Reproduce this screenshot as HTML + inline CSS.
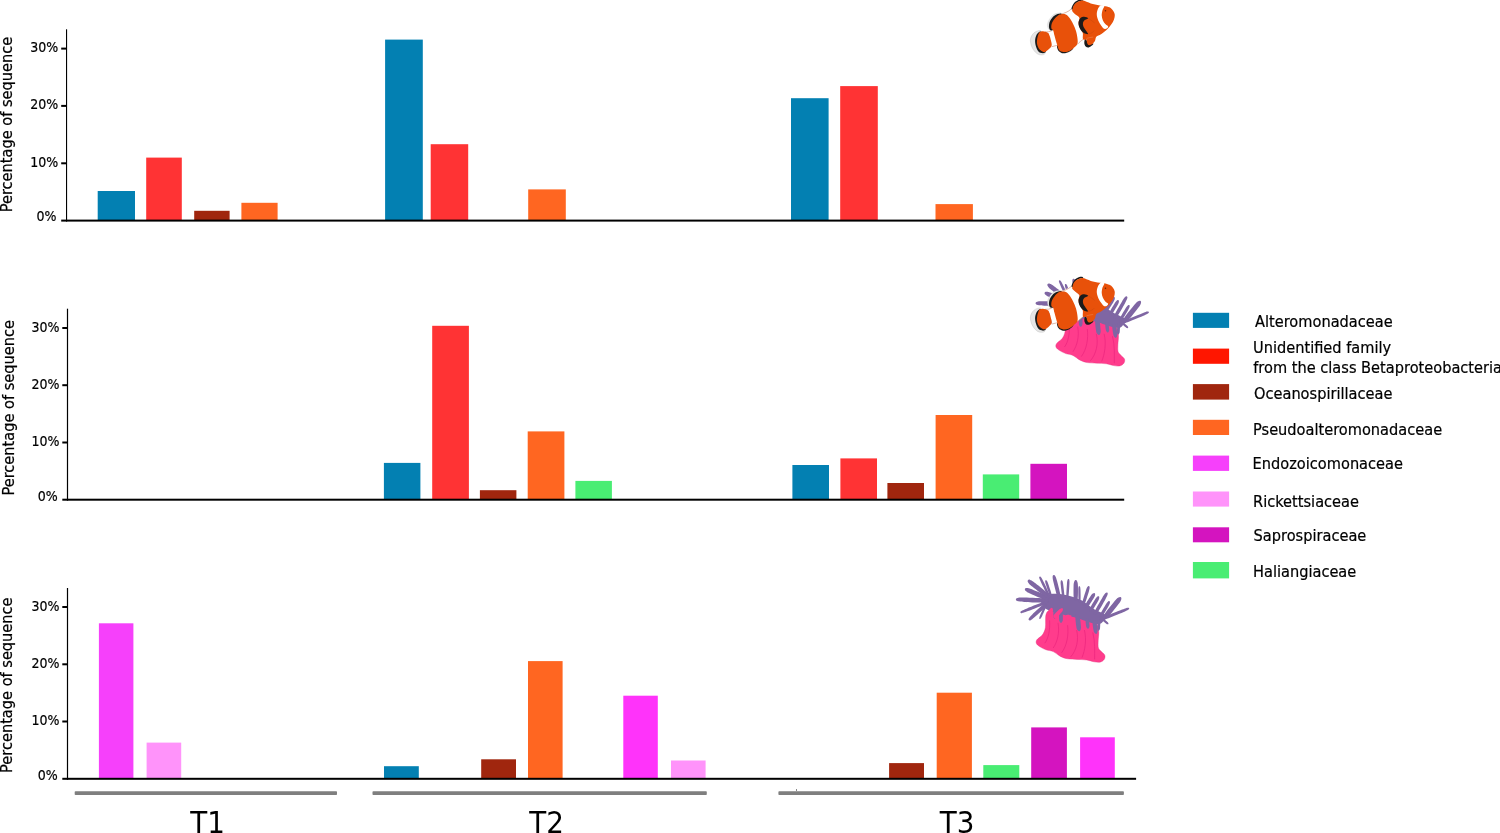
<!DOCTYPE html>
<html lang="en"><head><meta charset="utf-8"><title>Percentage of sequence by bacterial family</title>
<style>
html,body{margin:0;padding:0;background:#fff;}
body{width:1500px;height:833px;overflow:hidden;}
svg{display:block;}
text{font-family:"DejaVu Sans","Liberation Sans",sans-serif;fill:#000;stroke:#000;stroke-width:0.22px;}
.tk{font-size:14.0px;text-anchor:end;}
.yl{font-size:16.2px;}
.lg{font-size:16.2px;}
.tt{font-size:29.7px;stroke:none;}
</style></head><body>
<svg width="1500" height="833" viewBox="0 0 1500 833">
<rect width="1500" height="833" fill="#fff"/>

<g id="chart1">
<rect x="97.7" y="191.0" width="37.3" height="29.6" fill="#0380b2"/>
<rect x="146.2" y="157.6" width="35.6" height="63.0" fill="#ff3334"/>
<rect x="194.2" y="210.8" width="35.4" height="9.8" fill="#a0260e"/>
<rect x="241.4" y="202.8" width="36.2" height="17.8" fill="#ff6621"/>
<rect x="385.1" y="39.6" width="37.7" height="181.0" fill="#0380b2"/>
<rect x="430.7" y="144.2" width="37.5" height="76.4" fill="#ff3334"/>
<rect x="528.2" y="189.4" width="37.6" height="31.2" fill="#ff6621"/>
<rect x="791.0" y="98.2" width="37.6" height="122.4" fill="#0380b2"/>
<rect x="840.2" y="86.1" width="37.6" height="134.5" fill="#ff3334"/>
<rect x="935.5" y="204.1" width="37.4" height="16.5" fill="#ff6621"/>
<rect x="66.0" y="29.3" width="1.1" height="192.3" fill="#000"/>
<rect x="61.2" y="219.6" width="1063.0" height="2" fill="#000"/>
<text class="tk" transform="translate(56.4,221.4) scale(0.9,1)">0%</text>
<rect x="61.2" y="162.3" width="5.3" height="2" fill="#000"/>
<text class="tk" transform="translate(58.2,166.8) scale(0.9,1)">10%</text>
<rect x="61.2" y="104.9" width="5.3" height="2" fill="#000"/>
<text class="tk" transform="translate(58.2,109.4) scale(0.9,1)">20%</text>
<rect x="61.2" y="47.6" width="5.3" height="2" fill="#000"/>
<text class="tk" transform="translate(58.2,52.1) scale(0.9,1)">30%</text>
<text class="yl" transform="translate(12.3,212.3) rotate(-90) scale(0.9,1)">Percentage of sequence</text>
</g>
<g id="chart2">
<rect x="383.9" y="462.9" width="36.5" height="36.8" fill="#0380b2"/>
<rect x="432.2" y="325.8" width="36.7" height="173.9" fill="#ff3334"/>
<rect x="479.9" y="490.2" width="36.5" height="9.5" fill="#a0260e"/>
<rect x="527.7" y="431.4" width="36.7" height="68.3" fill="#ff6621"/>
<rect x="575.4" y="480.9" width="36.5" height="18.8" fill="#49ed73"/>
<rect x="792.4" y="465.0" width="36.6" height="34.7" fill="#0380b2"/>
<rect x="840.4" y="458.4" width="36.6" height="41.3" fill="#ff3334"/>
<rect x="887.4" y="483.0" width="36.6" height="16.7" fill="#a0260e"/>
<rect x="935.6" y="415.0" width="36.6" height="84.7" fill="#ff6621"/>
<rect x="982.8" y="474.4" width="36.4" height="25.3" fill="#49ed73"/>
<rect x="1030.4" y="463.8" width="36.6" height="35.9" fill="#d414bf"/>
<rect x="66.9" y="308.7" width="1.2" height="192.0" fill="#000"/>
<rect x="62.3" y="498.7" width="1061.9" height="2" fill="#000"/>
<text class="tk" transform="translate(57.6,500.5) scale(0.9,1)">0%</text>
<rect x="62.3" y="441.5" width="5.1" height="2" fill="#000"/>
<text class="tk" transform="translate(59.4,446.0) scale(0.9,1)">10%</text>
<rect x="62.3" y="384.2" width="5.1" height="2" fill="#000"/>
<text class="tk" transform="translate(59.4,388.7) scale(0.9,1)">20%</text>
<rect x="62.3" y="327.0" width="5.1" height="2" fill="#000"/>
<text class="tk" transform="translate(59.4,331.5) scale(0.9,1)">30%</text>
<text class="yl" transform="translate(13.8,495.6) rotate(-90) scale(0.9,1)">Percentage of sequence</text>
</g>
<g id="chart3">
<rect x="98.9" y="623.3" width="34.5" height="155.5" fill="#f640fb"/>
<rect x="146.6" y="742.6" width="34.6" height="36.2" fill="#ff93fa"/>
<rect x="384.0" y="766.2" width="34.8" height="12.6" fill="#0380b2"/>
<rect x="481.2" y="759.3" width="34.8" height="19.5" fill="#a0260e"/>
<rect x="528.0" y="661.1" width="34.6" height="117.7" fill="#ff6621"/>
<rect x="623.3" y="695.7" width="34.5" height="83.1" fill="#ff33fa"/>
<rect x="671.0" y="760.5" width="34.6" height="18.3" fill="#ff93fa"/>
<rect x="889.1" y="763.1" width="34.9" height="15.7" fill="#a0260e"/>
<rect x="936.7" y="692.7" width="35.2" height="86.1" fill="#ff6621"/>
<rect x="983.3" y="765.1" width="36.0" height="13.7" fill="#49ed73"/>
<rect x="1031.2" y="727.4" width="35.7" height="51.4" fill="#d414bf"/>
<rect x="1080.1" y="737.3" width="34.7" height="41.5" fill="#ff33fa"/>
<rect x="66.9" y="588.0" width="1.2" height="191.8" fill="#000"/>
<rect x="62.3" y="777.8" width="1073.8" height="2" fill="#000"/>
<text class="tk" transform="translate(57.6,779.6) scale(0.9,1)">0%</text>
<rect x="62.3" y="720.5" width="5.1" height="2" fill="#000"/>
<text class="tk" transform="translate(59.4,725.0) scale(0.9,1)">10%</text>
<rect x="62.3" y="663.3" width="5.1" height="2" fill="#000"/>
<text class="tk" transform="translate(59.4,667.8) scale(0.9,1)">20%</text>
<rect x="62.3" y="606.0" width="5.1" height="2" fill="#000"/>
<text class="tk" transform="translate(59.4,610.5) scale(0.9,1)">30%</text>
<text class="yl" transform="translate(12.3,773.0) rotate(-90) scale(0.9,1)">Percentage of sequence</text>
</g>
<g id="groups" fill="#7f7f7f">
<rect x="74.7" y="791.2" width="262.3" height="3.8" rx="0.8"/>
<rect x="372.5" y="791.2" width="334.3" height="3.8" rx="0.8"/>
<rect x="778.4" y="791.2" width="345.5" height="3.8" rx="0.8"/>
</g>
<rect x="796" y="789" width="0.7" height="2" fill="#555"/>
<text class="tt" transform="translate(190.2,832.8) scale(0.935,1)">T1</text>
<text class="tt" transform="translate(529.3,832.8) scale(0.935,1)">T2</text>
<text class="tt" transform="translate(939.7,832.8) scale(0.935,1)">T3</text>
<g id="legend">
<rect x="1192.9" y="312.8" width="36.2" height="15.1" fill="#0380b2"/>
<rect x="1192.9" y="348.6" width="36.2" height="15.2" fill="#ff1600"/>
<rect x="1192.9" y="384.1" width="36.2" height="15.5" fill="#a0260e"/>
<rect x="1192.9" y="419.8" width="36.2" height="15.2" fill="#ff6621"/>
<rect x="1192.9" y="455.6" width="36.2" height="15.3" fill="#f640fb"/>
<rect x="1192.9" y="491.5" width="36.2" height="15.1" fill="#ff93fa"/>
<rect x="1192.9" y="527.3" width="36.2" height="15.0" fill="#d414bf"/>
<rect x="1192.9" y="562.0" width="36.2" height="16.4" fill="#49ed73"/>
<text class="lg" transform="translate(1255.0,326.8) scale(0.9,1)">Alteromonadaceae</text>
<text class="lg" transform="translate(1253.0,352.6) scale(0.9,1)">Unidentified family</text>
<text class="lg" transform="translate(1253.2,372.7) scale(0.9,1)">from the class Betaproteobacteria</text>
<text class="lg" transform="translate(1254.0,398.9) scale(0.9,1)">Oceanospirillaceae</text>
<text class="lg" transform="translate(1253.0,434.5) scale(0.9,1)">Pseudoalteromonadaceae</text>
<text class="lg" transform="translate(1252.6,468.9) scale(0.9,1)">Endozoicomonaceae</text>
<text class="lg" transform="translate(1253.0,506.9) scale(0.9,1)">Rickettsiaceae</text>
<text class="lg" transform="translate(1253.6,541.2) scale(0.9,1)">Saprospiraceae</text>
<text class="lg" transform="translate(1253.0,577.1) scale(0.9,1)">Haliangiaceae</text>
</g>
<defs><g id="fish">
<path transform="translate(1025,10) scale(0.06)" d="M330,366 L445,345 L480,360 L560,600 L445,612 L430,500 L400,420Z" fill="#fff"/>
<path transform="translate(1065,0) scale(0.06)" d="M-67,237 L105,150 L130,185 L160,220 L210,260 L250,300 L235,380 L250,450 L290,520 L305,560 L305,655 L205,740 L195,647 L170,517 L120,397 L60,297 L0,245Z" fill="#fff"/>
<g transform="translate(1025,10) scale(0.06)">
<path d="M255.0,343.0C231.7,336.3 177.2,357.2 150.0,380.0C122.8,402.8 99.0,443.3 92.0,480.0C85.0,516.7 95.0,563.3 108.0,600.0C121.0,636.7 146.3,675.5 170.0,700.0C193.7,724.5 222.5,743.3 250.0,747.0C277.5,750.7 326.7,753.2 335.0,722.0C343.3,690.8 307.5,610.3 300.0,560.0C292.5,509.7 297.5,456.2 290.0,420.0C282.5,383.8 278.3,349.7 255.0,343.0Z" fill="#e6e6e6" stroke="#9a9a9a" stroke-width="4"/>
<path d="M258.0,358.0C240.5,356.3 210.0,383.0 195.0,410.0C180.0,437.0 168.0,481.7 168.0,520.0C168.0,558.3 180.5,608.0 195.0,640.0C209.5,672.0 230.0,701.7 255.0,712.0C280.0,722.3 332.5,727.3 345.0,702.0C357.5,676.7 337.5,607.0 330.0,560.0C322.5,513.0 312.0,453.7 300.0,420.0C288.0,386.3 275.5,359.7 258.0,358.0Z" fill="#1b1b1b"/>
<path d="M250.0,365.0C262.5,357.5 278.3,352.5 300.0,355.0C321.7,357.5 361.7,367.5 380.0,380.0C398.3,392.5 401.7,410.0 410.0,430.0C418.3,450.0 424.2,473.3 430.0,500.0C435.8,526.7 450.0,565.0 445.0,590.0C440.0,615.0 417.5,632.5 400.0,650.0C382.5,667.5 358.3,688.3 340.0,695.0C321.7,701.7 308.3,699.2 290.0,690.0C271.7,680.8 245.0,661.7 230.0,640.0C215.0,618.3 204.2,588.3 200.0,560.0C195.8,531.7 200.8,496.7 205.0,470.0C209.2,443.3 217.5,417.5 225.0,400.0C232.5,382.5 237.5,372.5 250.0,365.0Z" fill="#e8510a"/>
<path d="M330,366 C370,368 410,362 445,348 M445,612 C500,600 545,585 595,570" fill="none" stroke="#b4552e" stroke-width="7"/>
<path d="M605.0,52.0C584.2,40.0 511.5,54.2 475.0,78.0C438.5,101.8 401.8,159.7 386.0,195.0C370.2,230.3 371.7,265.0 380.0,290.0C388.3,315.0 412.7,343.3 436.0,345.0C459.3,346.7 492.7,332.5 520.0,300.0C547.3,267.5 585.8,191.3 600.0,150.0C614.2,108.7 625.8,64.0 605.0,52.0Z" fill="#e6e6e6" stroke="#aaa" stroke-width="3"/>
<path d="M605.0,62.0C587.5,50.7 526.2,71.5 495.0,92.0C463.8,112.5 433.8,152.0 418.0,185.0C402.2,218.0 396.7,264.2 400.0,290.0C403.3,315.8 418.0,338.3 438.0,340.0C458.0,341.7 493.0,330.0 520.0,300.0C547.0,270.0 585.8,199.7 600.0,160.0C614.2,120.3 622.5,73.3 605.0,62.0Z" fill="#1b1b1b"/>
<path d="M535.0,600.0C528.3,615.3 542.5,661.7 560.0,682.0C577.5,702.3 609.2,720.3 640.0,722.0C670.8,723.7 717.5,707.7 745.0,692.0C772.5,676.3 812.5,643.3 805.0,628.0C797.5,612.7 734.2,606.3 700.0,600.0C665.8,593.7 627.5,590.0 600.0,590.0C572.5,590.0 541.7,584.7 535.0,600.0Z" fill="#1b1b1b"/>
<path d="M600.0,70.0C621.7,67.5 656.7,65.0 680.0,75.0C703.3,85.0 720.0,104.2 740.0,130.0C760.0,155.8 781.7,193.3 800.0,230.0C818.3,266.7 837.5,308.3 850.0,350.0C862.5,391.7 871.7,443.3 875.0,480.0C878.3,516.7 882.5,543.3 870.0,570.0C857.5,596.7 825.0,620.0 800.0,640.0C775.0,660.0 746.7,680.0 720.0,690.0C693.3,700.0 665.0,703.3 640.0,700.0C615.0,696.7 585.8,685.0 570.0,670.0C554.2,655.0 553.3,633.3 545.0,610.0C536.7,586.7 529.2,561.7 520.0,530.0C510.8,498.3 498.3,451.7 490.0,420.0C481.7,388.3 478.3,358.3 470.0,340.0C461.7,321.7 444.2,328.3 440.0,310.0C435.8,291.7 436.7,256.7 445.0,230.0C453.3,203.3 472.5,173.3 490.0,150.0C507.5,126.7 531.7,103.3 550.0,90.0C568.3,76.7 578.3,72.5 600.0,70.0Z" fill="#e8510a"/>
</g>
<g transform="translate(1065,0) scale(0.06)">
<path d="M-70,235 C-20,225 50,200 105,150 M205,740 C240,700 270,680 305,655" fill="none" stroke="#b4552e" stroke-width="7"/>
<path d="M108.0,150.0C107.5,138.7 115.5,111.2 125.0,92.0C134.5,72.8 147.8,50.7 165.0,35.0C182.2,19.3 206.8,5.2 228.0,-2.0C249.2,-9.2 280.0,-10.0 292.0,-8.0C304.0,-6.0 308.7,5.0 300.0,10.0C291.3,15.0 259.2,14.5 240.0,22.0C220.8,29.5 200.0,42.0 185.0,55.0C170.0,68.0 159.5,82.5 150.0,100.0C140.5,117.5 135.0,151.7 128.0,160.0C121.0,168.3 108.5,161.3 108.0,150.0Z" fill="#1b1b1b"/>
<path d="M338.0,650.0C325.0,650.0 320.8,699.2 322.0,720.0C323.2,740.8 332.8,763.3 345.0,775.0C357.2,786.7 376.7,793.3 395.0,790.0C413.3,786.7 442.5,765.8 455.0,755.0C467.5,744.2 479.2,730.8 470.0,725.0C460.8,719.2 422.0,732.5 400.0,720.0C378.0,707.5 351.0,650.0 338.0,650.0Z" fill="#1b1b1b"/>
<path d="M126.0,152.0C129.0,138.8 129.0,122.7 138.0,106.0C147.0,89.3 163.3,66.0 180.0,52.0C196.7,38.0 219.3,29.0 238.0,22.0C256.7,15.0 273.3,9.2 292.0,10.0C310.7,10.8 327.0,19.0 350.0,27.0C373.0,35.0 391.7,47.5 430.0,58.0C468.3,68.5 535.0,81.7 580.0,90.0C625.0,98.3 668.3,99.7 700.0,108.0C731.7,116.3 751.7,126.3 770.0,140.0C788.3,153.7 800.0,171.7 810.0,190.0C820.0,208.3 829.2,226.7 830.0,250.0C830.8,273.3 825.0,303.3 815.0,330.0C805.0,356.7 789.2,383.3 770.0,410.0C750.8,436.7 728.3,463.3 700.0,490.0C671.7,516.7 629.7,549.7 600.0,570.0C570.3,590.3 538.7,593.7 522.0,612.0C505.3,630.3 511.2,659.5 500.0,680.0C488.8,700.5 471.7,723.0 455.0,735.0C438.3,747.0 414.5,755.3 400.0,752.0C385.5,748.7 375.5,730.3 368.0,715.0C360.5,699.7 366.3,670.0 355.0,660.0C343.7,650.0 309.5,671.7 300.0,655.0C290.5,638.3 301.3,582.5 298.0,560.0C294.7,537.5 289.7,538.3 280.0,520.0C270.3,501.7 249.2,473.3 240.0,450.0C230.8,426.7 225.0,405.0 225.0,380.0C225.0,355.0 244.2,320.0 240.0,300.0C235.8,280.0 215.0,273.3 200.0,260.0C185.0,246.7 163.3,232.5 150.0,220.0C136.7,207.5 124.0,196.3 120.0,185.0C116.0,173.7 123.0,165.2 126.0,152.0Z" fill="#e8510a"/>
<path d="M590.0,92.0C608.3,82.0 649.2,87.0 655.0,100.0C660.8,113.0 632.2,143.3 625.0,170.0C617.8,196.7 610.8,231.7 612.0,260.0C613.2,288.3 622.0,316.7 632.0,340.0C642.0,363.3 657.7,383.8 672.0,400.0C686.3,416.2 713.3,425.0 718.0,437.0C722.7,449.0 710.5,464.8 700.0,472.0C689.5,479.2 670.8,487.3 655.0,480.0C639.2,472.7 621.2,449.7 605.0,428.0C588.8,406.3 570.5,379.7 558.0,350.0C545.5,320.3 532.2,281.7 530.0,250.0C527.8,218.3 535.0,186.3 545.0,160.0C555.0,133.7 571.7,102.0 590.0,92.0Z" fill="#fff"/>
<circle cx="675" cy="180" r="13" fill="#6e2405"/>
<path d="M790,235 L815,228" stroke="#b5451a" stroke-width="5" fill="none"/>
<path d="M385.0,305.0C384.2,295.3 341.7,280.0 320.0,280.0C298.3,280.0 270.8,287.5 255.0,305.0C239.2,322.5 225.8,355.8 225.0,385.0C224.2,414.2 235.0,452.5 250.0,480.0C265.0,507.5 292.5,535.5 315.0,550.0C337.5,564.5 380.0,574.5 385.0,567.0C390.0,559.5 358.3,526.5 345.0,505.0C331.7,483.5 312.5,458.8 305.0,438.0C297.5,417.2 296.7,396.7 300.0,380.0C303.3,363.3 310.8,350.5 325.0,338.0C339.2,325.5 385.8,314.7 385.0,305.0Z" fill="#1b1b1b"/>
<path d="M380,300 C420,325 460,355 495,382 M385,566 C430,560 465,540 487,512" fill="none" stroke="#a8400f" stroke-width="4"/>
<path d="M360,640 C400,628 430,622 470,618" fill="none" stroke="#f0b090" stroke-width="5"/>
</g>
</g><g id="anemone"><g transform="translate(1010,570) scale(0.12)">
<path d="M300.0,370.0C292.5,395.0 300.0,451.7 295.0,480.0C290.0,508.3 281.7,523.3 270.0,540.0C258.3,556.7 233.3,568.0 225.0,580.0C216.7,592.0 215.8,602.0 220.0,612.0C224.2,622.0 236.7,631.2 250.0,640.0C263.3,648.8 281.7,658.3 300.0,665.0C318.3,671.7 340.0,670.8 360.0,680.0C380.0,689.2 400.0,710.0 420.0,720.0C440.0,730.0 456.7,735.8 480.0,740.0C503.3,744.2 533.3,743.3 560.0,745.0C586.7,746.7 616.7,746.7 640.0,750.0C663.3,753.3 681.7,762.0 700.0,765.0C718.3,768.0 735.8,771.3 750.0,768.0C764.2,764.7 778.3,754.7 785.0,745.0C791.7,735.3 793.8,720.8 790.0,710.0C786.2,699.2 770.8,690.0 762.0,680.0C753.2,670.0 741.5,665.0 737.0,650.0C732.5,635.0 734.5,611.7 735.0,590.0C735.5,568.3 740.8,541.7 740.0,520.0C739.2,498.3 736.7,475.0 730.0,460.0C723.3,445.0 721.7,440.0 700.0,430.0C678.3,420.0 636.7,409.2 600.0,400.0C563.3,390.8 513.3,385.0 480.0,375.0C446.7,365.0 423.3,347.5 400.0,340.0C376.7,332.5 356.7,325.0 340.0,330.0C323.3,335.0 307.5,345.0 300.0,370.0Z" fill="#ff3c8c" stroke="#e0307c" stroke-width="3"/>
<path d="M330,420 C335,500 320,570 290,610 M400,440 C415,520 395,600 360,650 M480,460 C490,540 475,630 430,690 M555,500 C575,580 555,670 505,725 M620,500 C640,580 625,670 600,730 M690,520 C710,600 705,680 705,745" fill="none" stroke="#e8207a" stroke-width="5"/>
<path d="M270.0,220.0C283.0,206.7 313.3,203.0 340.0,200.0C366.7,197.0 400.0,198.3 430.0,202.0C460.0,205.7 491.7,213.2 520.0,222.0C548.3,230.8 571.7,238.7 600.0,255.0C628.3,271.3 663.3,303.3 690.0,320.0C716.7,336.7 740.8,344.2 760.0,355.0C779.2,365.8 802.5,372.5 805.0,385.0C807.5,397.5 785.8,419.2 775.0,430.0C764.2,440.8 759.2,449.2 740.0,450.0C720.8,450.8 690.0,443.3 660.0,435.0C630.0,426.7 591.7,409.2 560.0,400.0C528.3,390.8 500.0,387.5 470.0,380.0C440.0,372.5 408.3,364.2 380.0,355.0C351.7,345.8 319.7,337.5 300.0,325.0C280.3,312.5 267.0,297.5 262.0,280.0C257.0,262.5 257.0,233.3 270.0,220.0Z" fill="#7f66a3"/>
<path d="M300.6,240.5C271.1,233.7 161.9,230.7 122.3,229.3C82.6,228.0 74.7,229.7 62.5,232.3C50.4,234.8 49.4,240.2 49.3,244.5C49.1,248.7 49.6,254.2 61.5,257.7C73.4,261.3 81.1,263.7 120.7,265.7C160.4,267.7 269.4,273.8 299.4,269.5C329.4,265.3 330.1,247.2 300.6,240.5Z" fill="#7f66a3"/>
<path d="M311.1,220.7C292.4,206.3 214.8,174.8 186.7,163.1C158.6,151.4 152.7,151.4 142.4,150.5C132.0,149.5 126.2,153.4 124.5,157.6C122.7,161.8 123.8,168.7 131.6,175.5C139.4,182.4 143.4,186.6 171.3,198.9C199.2,211.2 275.6,245.7 298.9,249.3C322.2,253.0 329.8,235.0 311.1,220.7Z" fill="#7f66a3"/>
<path d="M329.7,207.8C313.3,187.3 239.0,130.4 212.1,109.5C185.3,88.6 179.0,86.5 168.5,82.3C158.0,78.1 152.1,80.9 149.3,84.5C146.5,88.1 145.1,94.4 151.5,103.7C157.9,112.9 161.4,118.6 187.9,140.0C214.3,161.4 286.7,220.9 310.3,232.2C333.9,243.5 346.1,228.2 329.7,207.8Z" fill="#7f66a3"/>
<path d="M332.5,211.3C325.9,190.8 290.7,121.1 278.1,95.7C265.4,70.2 261.8,65.5 256.5,58.8C251.3,52.1 249.0,54.4 246.8,55.5C244.6,56.5 241.4,57.0 243.5,65.2C245.6,73.4 247.1,79.3 259.4,104.8C271.8,130.4 305.4,200.9 317.5,218.7C329.7,236.4 339.0,231.8 332.5,211.3Z" fill="#7f66a3"/>
<path d="M347.9,207.3C345.8,191.6 326.7,137.8 319.8,118.2C313.0,98.6 310.6,95.2 306.9,89.7C303.2,84.2 300.0,84.3 297.7,85.1C295.4,85.9 292.7,87.7 293.1,94.3C293.5,101.0 293.6,105.1 300.2,124.8C306.7,144.6 324.2,198.9 332.1,212.7C340.1,226.4 349.9,223.1 347.9,207.3Z" fill="#7f66a3"/>
<path d="M422.1,221.9C421.1,199.1 399.7,120.2 392.1,91.4C384.5,62.6 381.4,57.6 376.6,49.3C371.8,41.0 366.8,40.5 363.3,41.4C359.8,42.3 355.7,45.1 355.4,54.7C355.2,64.3 354.8,70.2 361.9,99.1C369.0,128.0 387.9,207.6 397.9,228.1C407.9,248.5 423.1,244.7 422.1,221.9Z" fill="#7f66a3"/>
<path d="M453.3,224.1C454.5,207.1 446.8,146.2 444.1,124.1C441.4,101.9 439.7,97.7 437.2,91.2C434.8,84.6 431.6,84.5 429.2,84.8C426.8,85.0 423.7,85.9 422.8,92.8C421.8,99.8 421.1,104.2 423.4,126.4C425.7,148.6 431.8,209.7 436.7,225.9C441.7,242.2 452.0,241.0 453.3,224.1Z" fill="#7f66a3"/>
<path d="M486.3,230.5C490.5,212.2 493.8,144.3 495.1,119.6C496.5,95.0 495.5,89.9 494.3,82.4C493.0,75.0 489.9,74.9 487.4,74.7C485.0,74.6 481.9,74.3 479.7,81.6C477.6,88.8 476.0,93.7 474.4,118.4C472.7,143.0 467.7,210.8 469.7,229.5C471.7,248.2 482.1,248.8 486.3,230.5Z" fill="#7f66a3"/>
<path d="M562.6,245.0C568.0,226.5 566.5,158.7 566.2,134.0C565.9,109.3 563.8,105.3 560.7,97.0C557.7,88.7 552.2,84.3 548.0,84.3C543.8,84.3 538.3,88.7 535.3,97.0C532.2,105.3 530.1,109.3 529.8,134.0C529.5,158.7 528.0,226.5 533.4,245.0C538.9,263.5 557.1,263.5 562.6,245.0Z" fill="#7f66a3"/>
<path d="M587.3,259.9C589.8,245.1 588.1,191.0 587.6,171.3C587.1,151.7 586.0,147.8 584.4,141.9C582.8,135.9 580.0,135.6 577.9,135.6C575.8,135.7 573.0,136.1 571.6,142.1C570.2,148.1 569.2,152.0 569.4,171.7C569.6,191.3 569.7,245.4 572.7,260.1C575.7,274.8 584.8,274.7 587.3,259.9Z" fill="#7f66a3"/>
<path d="M621.9,283.1C631.0,267.0 649.7,203.4 656.7,180.4C663.6,157.3 663.5,152.5 663.7,144.7C663.9,136.9 660.6,134.2 657.7,133.3C654.8,132.4 650.6,132.7 646.3,139.3C642.0,145.8 639.2,149.7 631.8,172.6C624.5,195.6 603.7,258.5 602.1,276.9C600.4,295.3 612.8,299.2 621.9,283.1Z" fill="#7f66a3"/>
<path d="M645.6,311.7C657.6,301.3 686.3,253.4 696.9,236.1C707.6,218.8 707.8,215.0 709.2,207.8C710.7,200.6 708.9,194.7 705.8,192.8C702.7,190.8 696.6,191.7 690.8,196.2C684.9,200.6 681.6,202.4 670.6,219.4C659.5,236.5 628.6,283.0 624.4,298.3C620.3,313.7 633.5,322.0 645.6,311.7Z" fill="#7f66a3"/>
<path d="M681.9,340.8C693.4,329.6 721.3,280.0 731.6,262.0C741.9,244.1 742.2,240.2 743.6,233.1C745.0,226.0 743.0,221.1 740.1,219.4C737.2,217.7 731.9,218.2 726.4,222.9C720.8,227.6 717.6,229.8 706.9,247.5C696.2,265.2 666.3,313.6 662.1,329.2C658.0,344.7 670.3,352.0 681.9,340.8Z" fill="#7f66a3"/>
<path d="M721.9,365.7C737.3,347.4 778.9,272.1 794.2,244.8C809.5,217.6 811.1,211.4 813.7,202.0C816.3,192.5 812.9,190.0 810.0,188.3C807.1,186.7 803.1,185.0 796.3,192.0C789.5,199.1 785.0,203.6 769.3,230.7C753.6,257.7 710.0,331.8 702.1,354.3C694.2,376.8 706.6,383.9 721.9,365.7Z" fill="#7f66a3"/>
<path d="M771.0,380.3C782.2,368.9 810.1,319.3 820.5,301.3C830.8,283.4 831.3,279.5 832.8,272.6C834.4,265.8 832.2,261.7 829.6,260.2C827.0,258.6 822.4,258.7 817.2,263.4C811.9,268.0 808.7,270.4 798.0,288.2C787.4,305.9 757.6,354.4 753.0,369.7C748.5,385.1 759.7,391.7 771.0,380.3Z" fill="#7f66a3"/>
<path d="M803.0,405.4C823.5,389.6 879.5,316.6 900.0,290.2C920.6,263.8 922.4,257.7 926.4,247.1C930.4,236.5 927.9,229.6 924.1,226.6C920.3,223.6 913.0,222.7 903.6,228.9C894.2,235.2 888.6,238.3 867.5,264.3C846.4,290.2 787.7,361.1 777.0,384.6C766.2,408.1 782.5,421.1 803.0,405.4Z" fill="#7f66a3"/>
<path d="M803.6,406.7C828.0,400.4 912.4,364.7 943.2,351.8C974.0,339.0 979.9,335.1 988.1,329.6C996.3,324.1 993.6,321.4 992.6,318.9C991.5,316.4 991.6,312.5 981.9,314.4C972.2,316.3 965.2,317.7 934.3,330.2C903.4,342.7 818.2,376.6 796.4,389.3C774.7,402.1 779.1,412.9 803.6,406.7Z" fill="#7f66a3"/>
<path d="M750.2,400.5C755.9,409.1 783.9,432.3 794.0,440.9C804.1,449.4 806.5,450.1 810.8,451.8C815.1,453.5 818.4,452.8 819.8,451.2C821.2,449.6 821.5,446.2 819.2,442.2C816.9,438.2 815.9,435.9 806.0,427.1C796.1,418.3 769.1,393.9 759.8,389.5C750.5,385.1 744.5,391.9 750.2,400.5Z" fill="#7f66a3"/>
<path d="M296.5,261.3C269.6,268.3 176.0,306.8 141.9,320.6C107.8,334.5 101.0,338.7 92.0,344.4C82.9,350.1 86.4,352.5 87.4,355.0C88.4,357.6 87.5,361.7 98.0,359.6C108.6,357.5 116.4,355.8 150.6,342.4C184.8,328.9 279.2,292.2 303.5,278.7C327.8,265.2 323.5,254.3 296.5,261.3Z" fill="#7f66a3"/>
<path d="M281.6,285.8C262.8,296.7 206.3,350.4 185.7,369.8C165.0,389.1 162.4,394.0 157.6,402.0C152.8,409.9 154.5,414.7 157.0,417.4C159.4,420.1 164.1,422.1 172.4,418.0C180.7,413.9 185.8,411.7 206.8,392.7C227.8,373.8 286.0,322.0 298.4,304.2C310.9,286.4 300.3,274.9 281.6,285.8Z" fill="#7f66a3"/>
<path d="M288.3,297.1C280.2,308.7 260.3,355.8 252.9,372.8C245.6,389.9 245.1,393.6 244.2,399.4C243.3,405.3 245.5,407.0 247.4,407.8C249.4,408.7 252.1,409.2 255.8,404.6C259.5,400.0 261.9,397.1 269.6,380.2C277.2,363.2 298.5,316.8 301.7,302.9C304.8,289.1 296.5,285.4 288.3,297.1Z" fill="#7f66a3"/>
<path d="M546.5,381.7C542.3,397.0 549.9,450.4 552.4,469.9C554.9,489.4 557.4,491.7 561.4,498.5C565.5,505.3 572.0,511.1 576.5,510.6C581.0,510.1 586.1,503.0 588.6,495.5C591.0,488.0 593.0,485.1 591.1,465.6C589.3,446.1 584.9,392.3 577.5,378.3C570.1,364.3 550.7,366.5 546.5,381.7Z" fill="#7f66a3"/>
<path d="M630.6,411.3C627.4,420.5 632.2,452.5 633.8,464.1C635.4,475.8 637.2,476.8 640.1,481.1C642.9,485.4 647.8,490.3 651.1,489.9C654.5,489.6 658.1,483.7 659.9,478.9C661.8,474.0 663.3,472.6 662.2,460.9C661.1,449.2 658.6,417.0 653.4,408.7C648.1,400.4 633.9,402.1 630.6,411.3Z" fill="#7f66a3"/>
<path d="M688.6,426.9C685.4,439.8 693.2,484.0 695.8,500.2C698.4,516.3 700.6,518.1 704.3,523.7C707.9,529.3 713.8,534.3 717.7,533.7C721.6,533.1 725.8,526.7 727.7,520.3C729.6,513.9 731.3,511.5 729.2,495.3C727.2,479.1 722.1,434.5 715.4,423.1C708.6,411.7 691.9,414.1 688.6,426.9Z" fill="#7f66a3"/>
<path d="M732.7,419.5C728.6,429.1 727.8,464.9 727.3,477.9C726.8,490.9 728.1,492.9 729.8,497.6C731.5,502.3 734.9,506.0 737.6,506.2C740.3,506.3 744.0,502.9 746.2,498.4C748.4,493.9 749.8,492.1 750.7,479.1C751.5,466.1 754.4,430.4 751.3,420.5C748.3,410.5 736.7,410.0 732.7,419.5Z" fill="#7f66a3"/>
<path d="M412.5,350.0C407.8,360.0 409.1,396.7 409.4,410.0C409.7,423.3 411.5,424.8 414.1,430.0C416.7,435.2 421.4,440.9 425.0,440.9C428.6,440.9 433.3,435.2 435.9,430.0C438.5,424.8 440.3,423.3 440.6,410.0C440.9,396.7 442.2,360.0 437.5,350.0C432.8,340.0 417.2,340.0 412.5,350.0Z" fill="#7f66a3"/>
<path d="M363.7,340.0C360.6,347.2 361.4,373.8 361.6,383.5C361.8,393.2 363.0,394.4 364.7,398.0C366.5,401.6 369.6,405.3 372.0,405.3C374.4,405.3 377.5,401.6 379.3,398.0C381.0,394.4 382.2,393.2 382.4,383.5C382.6,373.8 383.4,347.2 380.3,340.0C377.2,332.8 366.8,332.8 363.7,340.0Z" fill="#7f66a3"/>
<path d="M341.5,384.7C348.6,379.4 354.4,353.2 357.0,343.8C359.6,334.5 358.4,333.4 357.3,328.6C356.2,323.7 354.0,315.9 350.6,314.7C347.1,313.5 340.5,318.3 336.7,321.4C332.8,324.6 331.2,324.7 327.5,333.7C323.8,342.6 312.1,366.8 314.5,375.3C316.8,383.8 334.4,389.9 341.5,384.7Z" fill="#ff3c8c"/>
<path d="M382.4,401.8C393.6,397.2 418.8,365.7 428.4,354.7C438.0,343.6 438.1,341.2 440.0,335.5C441.8,329.7 442.1,322.5 439.5,320.0C436.8,317.5 429.7,318.3 424.0,320.5C418.4,322.7 416.0,323.0 405.6,333.3C395.2,343.6 365.4,370.8 361.6,382.2C357.7,393.6 371.3,406.4 382.4,401.8Z" fill="#ff3c8c"/>
<path d="M477.2,418.1C483.4,422.6 495.1,412.0 499.7,409.1C504.4,406.2 502.9,405.0 505.1,400.7C507.2,396.3 514.4,387.2 512.7,382.9C511.0,378.7 499.5,377.0 494.9,375.3C490.4,373.7 490.6,371.8 485.3,372.9C479.9,374.0 464.1,374.4 462.8,381.9C461.4,389.4 471.1,413.6 477.2,418.1Z" fill="#ff3c8c"/>
</g></g></defs>
<use href="#fish"/>
<use href="#anemone" x="19.7" y="-296.2"/>
<use href="#fish" y="277.4"/>
<use href="#anemone"/>
</svg></body></html>
